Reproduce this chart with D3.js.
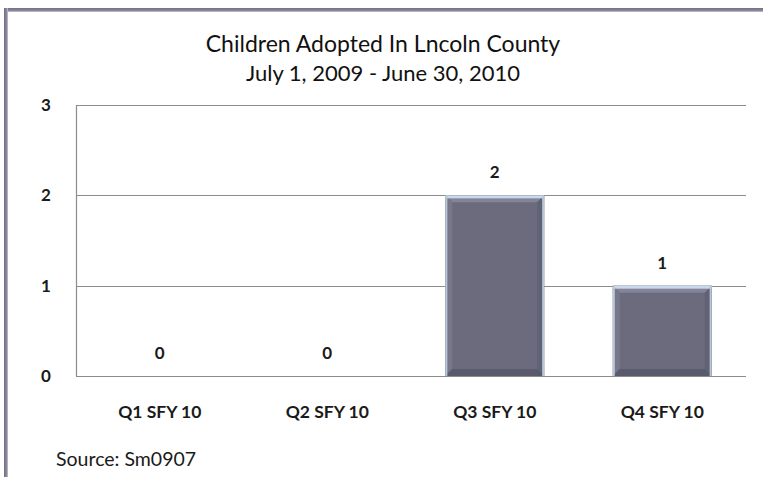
<!DOCTYPE html>
<html><head><meta charset="utf-8">
<script src="https://cdn.jsdelivr.net/npm/d3@7"></script>
<style>body{margin:0;background:#fff}svg{display:block}</style>
</head><body>
<script>
const categories = ["Q1 SFY 10","Q2 SFY 10","Q3 SFY 10","Q4 SFY 10"];
const values = [0,0,2,1];
const yTicks = [0,1,2,3];
const titleLines = ["Children Adopted In Lncoln County","July 1, 2009 - June 30, 2010"];
const sourceText = "Source: Sm0907";

const W=763,H=477;
const svg=d3.select("body").append("svg").attr("width",W).attr("height",H);
const defs=svg.append("defs");
const gTop=defs.append("linearGradient").attr("id","frameTop").attr("x1",0).attr("y1",0).attr("x2",0).attr("y2",1);
gTop.append("stop").attr("offset",0).attr("stop-color","#756d8c");
gTop.append("stop").attr("offset",0.6).attr("stop-color","#8a8398");
gTop.append("stop").attr("offset",1).attr("stop-color","#c9c6d0");
const gLeft=defs.append("linearGradient").attr("id","frameLeft").attr("x1",0).attr("y1",0).attr("x2",1).attr("y2",0);
gLeft.append("stop").attr("offset",0).attr("stop-color","#756d8c");
gLeft.append("stop").attr("offset",0.6).attr("stop-color","#8a8398");
gLeft.append("stop").attr("offset",1).attr("stop-color","#c9c6d0");

svg.append("rect").attr("x",4).attr("y",8).attr("width",W-4).attr("height",4).attr("fill","url(#frameTop)");
svg.append("rect").attr("x",4).attr("y",8).attr("width",4).attr("height",H-8).attr("fill","url(#frameLeft)");

const font="Lato, 'Open Sans', sans-serif";
svg.selectAll("text.title").data(titleLines).enter().append("text")
  .attr("x",383).attr("y",(d,i)=>52+i*29).attr("text-anchor","middle")
  .attr("font-family",font).attr("font-size",(d,i)=>i?22:23).attr("fill","#111").text(d=>d);

const x=d3.scaleBand().domain(categories).range([76,746]).paddingInner(0.41).paddingOuter(0.205);
const y=d3.scaleLinear().domain([0,3]).range([376,105]);

const grid=svg.append("g");
grid.selectAll("line").data(yTicks).enter().append("line")
  .attr("x1",76).attr("x2",746).attr("y1",d=>Math.round(y(d))+0.5).attr("y2",d=>Math.round(y(d))+0.5)
  .attr("stroke","#8c8c8c").attr("stroke-width",1.2);
svg.append("line").attr("x1",76.5).attr("x2",76.5).attr("y1",105).attr("y2",376).attr("stroke","#8c8c8c").attr("stroke-width",1.2);

svg.selectAll("text.ytick").data(yTicks).enter().append("text")
  .attr("x",46).attr("y",d=>y(d)+6).attr("text-anchor","middle")
  .attr("font-family",font).attr("font-weight","bold").attr("font-size",17).attr("fill","#1a1a1a").text(d=>d);

const bars=svg.append("g");
const data=categories.map((c,i)=>({c,v:values[i]}));
data.filter(d=>d.v>0).forEach(d=>{
  const x0=x(d.c), w=x.bandwidth(), y0=y(d.v), h=y(0)-y0;
  const g=bars.append("g");
  g.append("rect").attr("x",x0).attr("y",y0).attr("width",w).attr("height",h).attr("fill","#6b6b7d");
  const b=7;
  g.append("polygon").attr("points",[[x0,y0],[x0+w,y0],[x0+w-b,y0+b],[x0+b,y0+b]].join(" ")).attr("fill","#83839a");
  g.append("polygon").attr("points",[[x0,y0],[x0+b,y0+b],[x0+b,y0+h-b],[x0,y0+h]].join(" ")).attr("fill","#77778a");
  g.append("polygon").attr("points",[[x0+w,y0],[x0+w-b,y0+b],[x0+w-b,y0+h-b],[x0+w,y0+h]].join(" ")).attr("fill","#626275");
  g.append("polygon").attr("points",[[x0,y0+h],[x0+b,y0+h-b],[x0+w-b,y0+h-b],[x0+w,y0+h]].join(" ")).attr("fill","#5a5a6d");
  g.append("rect").attr("x",x0).attr("y",y0).attr("width",w).attr("height",3).attr("fill","#c9d9e8");
  g.append("rect").attr("x",x0).attr("y",y0).attr("width",2).attr("height",h).attr("fill","#b8c8d8");
  g.append("rect").attr("x",x0+w-2).attr("y",y0).attr("width",2).attr("height",h).attr("fill","#b8c8d8");
});

svg.selectAll("text.val").data(data).enter().append("text")
  .attr("x",d=>x(d.c)+x.bandwidth()/2).attr("y",d=>y(d.v)-17).attr("text-anchor","middle")
  .attr("font-family",font).attr("font-weight","bold").attr("font-size",17).attr("fill","#1a1a1a").text(d=>d.v);

svg.selectAll("text.cat").data(categories).enter().append("text")
  .attr("x",d=>x(d)+x.bandwidth()/2).attr("y",418).attr("text-anchor","middle")
  .attr("font-family",font).attr("font-weight","bold").attr("font-size",17.5).attr("fill","#1a1a1a").text(d=>d);

svg.append("text").attr("x",56).attr("y",466).attr("font-family",font).attr("font-size",19.5).attr("fill","#1a1a1a").text(sourceText);
</script>
</body></html>
